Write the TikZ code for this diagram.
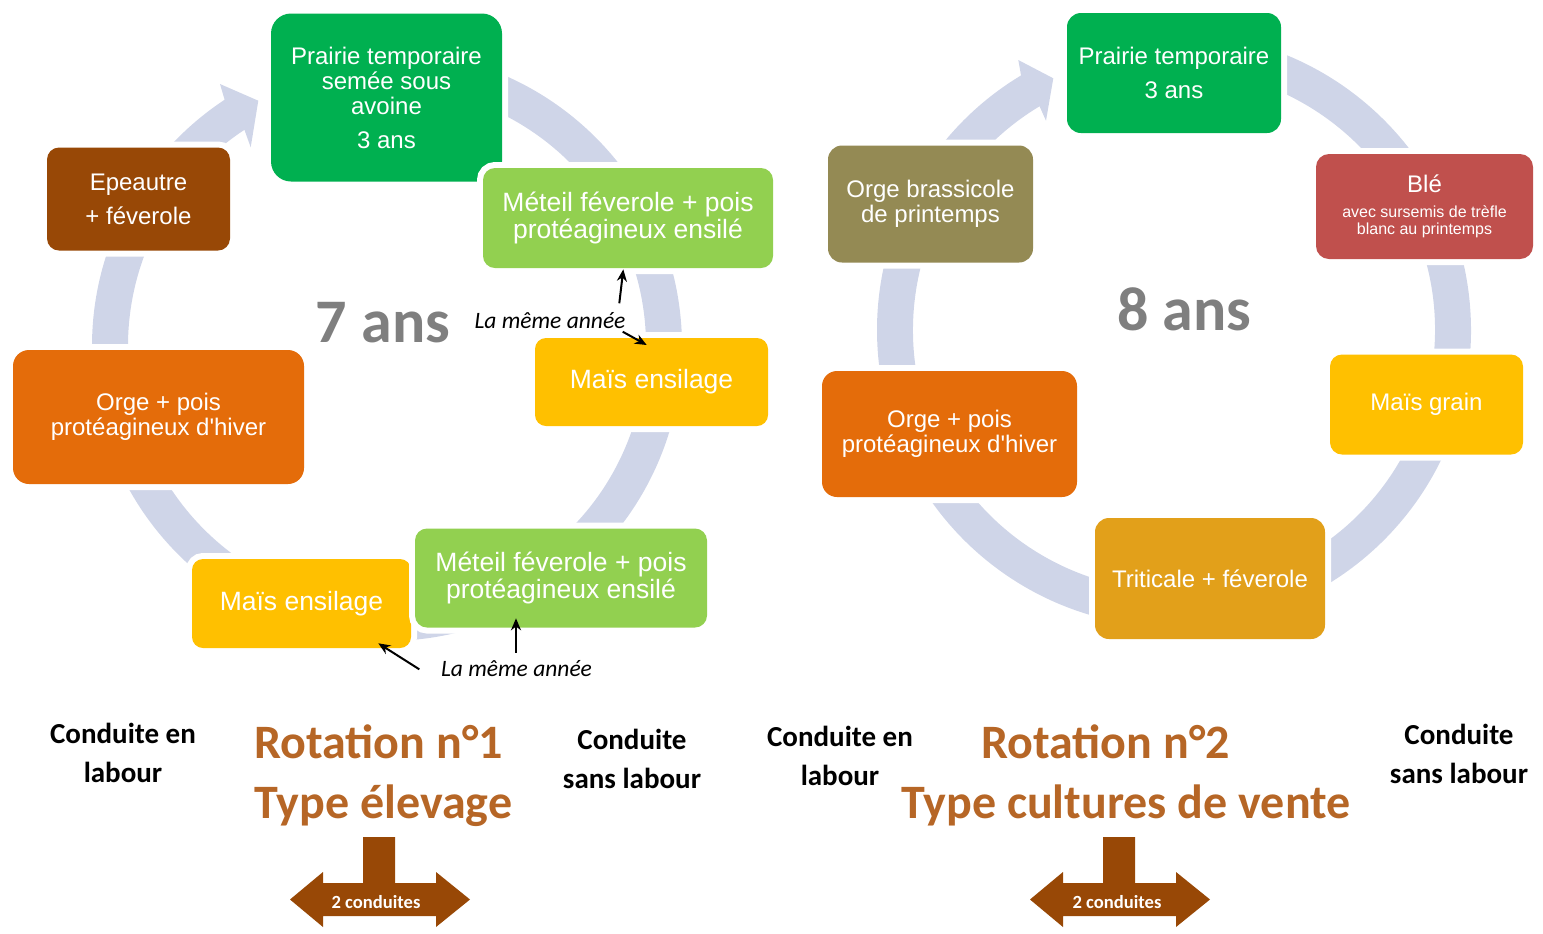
\documentclass[tikz,border=0pt]{standalone}
\usepackage{fontspec}
\setmainfont{Liberation Sans}
\newfontfamily\carlito{Carlito}
\usetikzlibrary{arrows.meta,calc}
\definecolor{cP}{RGB}{0,176,80}
\definecolor{cM}{RGB}{146,208,80}
\definecolor{cY}{RGB}{255,192,0}
\definecolor{cO}{RGB}{228,108,10}
\definecolor{cE}{RGB}{152,72,6}
\definecolor{cOB}{RGB}{148,138,84}
\definecolor{cB}{RGB}{192,80,77}
\definecolor{cT}{RGB}{226,160,26}
\definecolor{cRing}{RGB}{207,213,232}
\definecolor{cTitle}{RGB}{182,102,38}
\definecolor{cGray}{RGB}{127,127,127}
\newcommand{\smalltxt}{\fontsize{8}{8.5}\selectfont}
\begin{document}
\begin{tikzpicture}[x=0.5pt,y=0.5pt,
  box/.style={preaction={draw=white,line width=6pt}, inner sep=0pt, text=white, align=center,
    font=\fontsize{12}{12.5}\selectfont},
  bigbox/.style={box, font=\fontsize{13.25}{13.5}\selectfont},
  ring/.style={fill=cRing},
  yearlbl/.style={text=cGray, font=\carlito\bfseries\fontsize{31}{31}\selectfont, inner sep=0pt, anchor=base},
  samelbl/.style={font=\carlito\itshape\fontsize{11.75}{12}\selectfont, inner sep=0pt, anchor=base},
  ann/.style={draw=black, line width=1pt, -{Stealth[length=6pt,width=5pt]}},
  cond/.style={font=\carlito\bfseries\fontsize{14.5}{19.5}\selectfont, align=center, inner sep=0pt},
  title/.style={text=cTitle, font=\carlito\bfseries\fontsize{24}{30}\selectfont, inner sep=0pt, anchor=base west},
  twoarrow/.style={fill=cE},
  twolbl/.style={text=white, font=\carlito\bfseries\fontsize{9.3}{10}\selectfont, inner sep=0pt}
]
\useasboundingbox (0,0) rectangle (1543,-933);

% ---------- left ring ----------
\coordinate (cL) at (387,-346);
\fill[ring] ($(cL)+(123.4:295)$) -- (220,-84) -- (258.3,-100.7) -- (250.7,-147.3)
  -- ($(cL)+(123.4:259)$) arc[start angle=123.4, end angle=455, radius=259]
  -- ($(cL)+(455:295)$) arc[start angle=455, end angle=123.4, radius=295] -- cycle;

% ---------- right ring ----------
\coordinate (cR) at (1174,-330);
\fill[ring] ($(cR)+(121:297)$) -- (1018.3,-60) -- (1053.3,-78.3) -- (1046,-120.7)
  -- ($(cR)+(121:261)$) arc[start angle=121, end angle=455, radius=261]
  -- ($(cR)+(455:297)$) arc[start angle=455, end angle=121, radius=297] -- cycle;

% ---------- left boxes ----------
\node[box, fill=cP, minimum width=115.5pt, minimum height=84pt, rounded corners=10pt] (P1) at (386.5,-97.5)
  {Prairie temporaire\\semée sous\\avoine\\[4.5pt]3 ans};
\node[box, fill=cE, minimum width=91.5pt, minimum height=51.5pt, rounded corners=6pt] (E1) at (138.5,-199)
  {Epeautre\\[4.5pt]+ féverole};
\node[box, fill=cO, minimum width=145.5pt, minimum height=67pt, rounded corners=8pt] (O1) at (158.5,-417)
  {Orge + pois\\protéagineux d\textquotesingle hiver};
\node[bigbox, fill=cY, minimum width=109.5pt, minimum height=44.5pt, rounded corners=5.5pt] (Y2) at (301.5,-603.5)
  {Maïs ensilage};
\node[bigbox, fill=cM, minimum width=146pt, minimum height=49.5pt, rounded corners=6pt] (M2) at (561,-578)
  {Méteil féverole + pois\\protéagineux ensilé};
\node[bigbox, fill=cY, minimum width=116.5pt, minimum height=44pt, rounded corners=5.5pt] (Y1) at (651.5,-382)
  {Maïs ensilage};
\node[bigbox, fill=cM, minimum width=145pt, minimum height=50pt, rounded corners=6pt] (M1) at (628,-218)
  {Méteil féverole + pois\\protéagineux ensilé};

% ---------- right boxes ----------
\node[box, fill=cP, minimum width=107pt, minimum height=60pt, rounded corners=7pt] (P2) at (1174,-73)
  {Prairie temporaire\\[4.5pt]3 ans};
\node[box, fill=cB, minimum width=108.5pt, minimum height=52.5pt, rounded corners=6.5pt] (B2) at (1424.5,-206.5)
  {Blé\\{\smalltxt avec sursemis de trèfle}\\[-4pt]{\smalltxt blanc au printemps}};
\node[box, fill=cY, minimum width=96.5pt, minimum height=50pt, rounded corners=6pt] (G2) at (1426.5,-404.5)
  {Maïs grain};
\node[box, fill=cT, minimum width=115pt, minimum height=60.5pt, rounded corners=7pt] (T2) at (1210,-578.5)
  {Triticale + féverole};
\node[box, fill=cO, minimum width=127.5pt, minimum height=63pt, rounded corners=7.5pt] (O2) at (949.5,-434)
  {Orge + pois\\protéagineux d\textquotesingle hiver};
\node[box, fill=cOB, minimum width=102.5pt, minimum height=58.5pt, rounded corners=7pt] (OB2) at (930.5,-204)
  {Orge brassicole\\de printemps};

% ---------- year labels ----------
\node[yearlbl] (Y7) at (383,-342) {7 ans};
\node[yearlbl] (Y8) at (1184.5,-330) {8 ans};

% ---------- "La même année" annotations ----------
\node[samelbl] (S1) at (550,-328) {La même année};
\node[samelbl] (S2) at (516.5,-676) {La même année};
\coordinate (a1t) at (619.3,-303.3);
\coordinate (a1h) at (623.3,-269.3);
\coordinate (a2t) at (622.7,-331.7);
\coordinate (a2h) at (646.7,-345);
\coordinate (b1t) at (516,-652.7);
\coordinate (b1h) at (516,-618.3);
\coordinate (b2t) at (419.3,-669.3);
\coordinate (b2h) at (378.3,-643.3);
\draw[ann] (a1t) -- (a1h);
\draw[ann] (a2t) -- (a2h);
\draw[ann] (b1t) -- (b1h);
\draw[ann] (b2t) -- (b2h);

% ---------- bottom labels ----------
\node[cond] (C1) at (123,-753) {Conduite en\\labour};
\node[cond] (C2) at (632,-759) {Conduite\\sans labour};
\node[cond] (C3) at (840,-756) {Conduite en\\labour};
\node[cond] (C4) at (1459,-754) {Conduite\\sans labour};

\node[title] (T1a) at (254,-758) {Rotation n°1};
\node[title] (T1b) at (254,-818) {Type élevage};
\node[title] (T2a) at (981,-758) {Rotation n°2};
\node[title] (T2b) at (901,-818) {Type cultures de vente};

% ---------- "2 conduites" arrows ----------
\foreach \dx in {0,740} {
  \fill[twoarrow, xshift=\dx*0.5pt] (363,-837) -- (395,-837) -- (395,-883) -- (436,-883) -- (436,-872)
    -- (470,-899.5) -- (436,-927) -- (436,-916) -- (323,-916) -- (323,-927) -- (290,-899.5)
    -- (323,-872) -- (323,-883) -- (363,-883) -- cycle;
}
\node[twolbl] (D1) at (376,-902) {2 conduites};
\node[twolbl] (D2) at (1117,-902) {2 conduites};
\end{tikzpicture}
\end{document}
